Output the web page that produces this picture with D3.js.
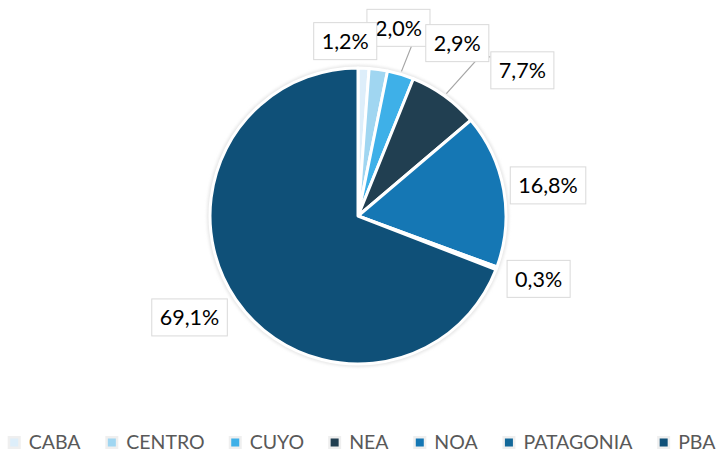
<!DOCTYPE html>
<html><head><meta charset="utf-8">
<script src="https://cdn.jsdelivr.net/npm/d3@7/dist/d3.min.js"></script>
<style>body{margin:0;background:#fff}svg{display:block}</style>
</head><body>
<svg id="c" width="716" height="452"></svg>
<script>
const categories = ["CABA","CENTRO","CUYO","NEA","NOA","PATAGONIA","PBA"];
const values = [1.2, 2.0, 2.9, 7.7, 16.8, 0.3, 69.1];
const labels = ["1,2%","2,0%","2,9%","7,7%","16,8%","0,3%","69,1%"];
const colors = ["#ddeefa","#a0d6f1","#3eb0e8","#213f51","#1577b4","#136899","#0f5078"];

// layout constants
const W = 716, H = 452, cx = 358, cy = 216, R = 148, labelR = 192;
const nudge = [[-20,17],[14,2],[44,11],[52,10],[1,3],[1,-5],[-10,-7]]; // px shifts for crowded labels
const leaders = [null,null,{ky:14.5},{ky:5},null,null,null];
const zOrder = [1,0,2,3,4,5,6];
const font = "Lato, 'Open Sans', sans-serif";

const svg = d3.select("#c");
const pie = d3.pie().value(d=>d).sort(null);
const arcs = pie(values);
const arc = d3.arc().innerRadius(0).outerRadius(R);

const defs = svg.append("defs");
const f = defs.append("filter").attr("id","blur").attr("x","-10%").attr("y","-10%").attr("width","120%").attr("height","120%");
f.append("feGaussianBlur").attr("stdDeviation",1.5);

const g = svg.append("g").attr("transform",`translate(${cx},${cy})`);
g.append("circle").attr("r",R+3).attr("fill","#e6e6e6").attr("filter","url(#blur)");
g.selectAll("path.s").data(arcs).join("path").attr("class","s")
  .attr("d",arc).attr("fill",(d,i)=>colors[i]).attr("stroke","#fff").attr("stroke-width",3).attr("stroke-linejoin","round");

// labels
const mid = d => (d.startAngle+d.endAngle)/2;
const lg = svg.append("g");
const items = arcs.map((d,i)=>{
  const a = mid(d);
  return {i, x: cx + labelR*Math.sin(a) + nudge[i][0], y: cy - labelR*Math.cos(a) + nudge[i][1], a};
});
const BH = 37;
// leader lines
items.forEach(it=>{
  if(!leaders[it.i]) return;
  const boxL = it.x - 32, boxT = it.y - BH/2;
  const sx = cx + (R+3)*Math.sin(it.a), sy = cy - (R+3)*Math.cos(it.a);
  const ey = boxT + leaders[it.i].ky;
  lg.append("polyline").attr("points",`${sx},${sy} ${boxL-11},${ey} ${boxL},${ey}`)
    .attr("fill","none").attr("stroke","#a6a6a6").attr("stroke-width",1.2);
});
zOrder.forEach(i=>{
  const it = items[i];
  const grp = lg.append("g");
  const t = grp.append("text").attr("x",it.x).attr("y",it.y).attr("text-anchor","middle")
    .attr("dominant-baseline","central").attr("font-family",font).attr("font-size",21.5)
    .attr("fill","#000").text(labels[i]);
  const bb = t.node().getBBox();
  const bw = bb.width + 16;
  grp.insert("rect","text").attr("x",it.x-bw/2).attr("y",it.y-BH/2).attr("width",bw).attr("height",BH)
    .attr("fill","#fff").attr("stroke","#d9d9d9").attr("stroke-width",1);
});

// legend
const leg = svg.append("g");
let x = 0; const ly = 441;
categories.forEach((c,i)=>{
  const e = leg.append("g");
  e.append("rect").attr("x",x).attr("y",ly-5).attr("width",13).attr("height",13).attr("fill","#efefef");
  e.append("rect").attr("x",x+2.5).attr("y",ly-2.5).attr("width",8).attr("height",8).attr("fill",colors[i]);
  const t = e.append("text").attr("x",x+21).attr("y",ly).attr("dominant-baseline","central")
    .attr("font-family",font).attr("font-size",19.5).attr("fill","#595959").text(c);
  x += 21 + t.node().getBBox().width + 24;
});
const total = x - 24;
leg.attr("transform",`translate(${10 + (704-total)/2},0)`);
</script>
</body></html>
